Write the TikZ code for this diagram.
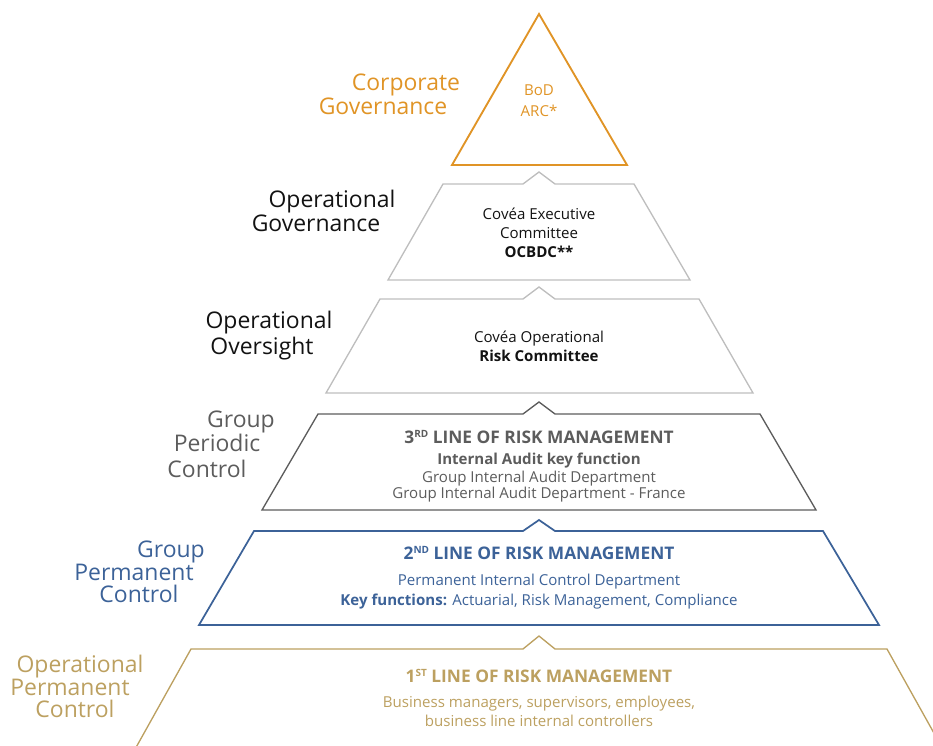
\documentclass[tikz,border=0pt]{standalone}
\usepackage{fontspec}
\setmainfont{Open Sans}
\begin{document}
\definecolor{cgorange}{RGB}{224,148,38}
\definecolor{oglight}{RGB}{190,190,190}
\definecolor{ogtext}{RGB}{18,18,18}
\definecolor{gpgrey}{RGB}{92,92,92}
\definecolor{gpblue}{RGB}{60,98,152}
\definecolor{opgold}{RGB}{188,160,96}
\newcommand{\supsm}[1]{\raisebox{0.55ex}{\fontsize{7.5}{8}\selectfont #1}}
\begin{tikzpicture}[x=0.75pt,y=-0.75pt,
  lbl/.style={font=\fontsize{17.2}{20}\selectfont, anchor=base, inner sep=0pt},
  txt/.style={font=\fontsize{11.3}{13}\selectfont, anchor=base, inner sep=0pt},
  btxt/.style={font=\bfseries\fontsize{11.3}{13}\selectfont, anchor=base, inner sep=0pt},
  head/.style={font=\bfseries\fontsize{13}{15}\selectfont, anchor=base, inner sep=0pt},
  tier/.style={line width=1pt, line join=miter}]
\useasboundingbox (0,0) rectangle (933,746);

% apex: corporate governance
\draw[tier, cgorange, line width=1.4pt] (539,14) -- (627,165) -- (452,165) -- cycle;
\node[lbl, text=cgorange] (cg1) at (406,90) {Corporate};
\node[lbl, text=cgorange] (cg2) at (383,114) {Governance};
\node[txt, text=cgorange] (bod) at (539,95) {BoD};
\node[txt, text=cgorange] (arc) at (539,116) {ARC*};

% tier 1: operational governance
\draw[tier, oglight] (443,184) -- (523,184) -- (539,172) -- (555,184) -- (634,184)
  -- (690,280) -- (388,280) -- cycle;
\node[lbl, text=ogtext] (og1) at (332,207) {Operational};
\node[lbl, text=ogtext] (og2) at (316,231) {Governance};
\node[txt, text=ogtext] (ogA) at (539,219) {Covéa Executive};
\node[txt, text=ogtext] (ogB) at (539,238) {Committee};
\node[btxt, text=ogtext] (ogC) at (539,257) {OCBDC**};

% tier 2: operational oversight
\draw[tier, oglight] (380,299) -- (523,299) -- (539,287) -- (555,299) -- (699,299)
  -- (753,393) -- (326,393) -- cycle;
\node[lbl, text=ogtext] (oo1) at (269,328) {Operational};
\node[lbl, text=ogtext] (oo2) at (262,354) {Oversight};
\node[txt, text=ogtext] (ooA) at (539,342) {Covéa Operational};
\node[btxt, text=ogtext] (ooB) at (539,361) {Risk Committee};

% tier 3: group periodic control
\draw[tier, gpgrey] (318,414) -- (523,414) -- (539,402) -- (555,414) -- (760,414)
  -- (816,510) -- (262,510) -- cycle;
\node[lbl, text=gpgrey] (gp1) at (241,427) {Group};
\node[lbl, text=gpgrey] (gp2) at (217,451) {Periodic};
\node[lbl, text=gpgrey] (gp3) at (207,477) {Control};
\node[head, text=gpgrey] (gpA) at (539,443) {3\supsm{RD} LINE OF RISK MANAGEMENT};
\node[btxt, text=gpgrey] (gpB) at (539,464) {Internal Audit key function};
\node[txt, text=gpgrey] (gpC) at (539,482) {Group Internal Audit Department};
\node[txt, text=gpgrey] (gpD) at (539,498) {Group Internal Audit Department - France};

% tier 4: group permanent control
\draw[tier, gpblue, line width=1.3pt] (254,531) -- (523,531) -- (539,520) -- (555,531) -- (823,531)
  -- (879,625) -- (199,625) -- cycle;
\node[lbl, text=gpblue] (pc1) at (171,557) {Group};
\node[lbl, text=gpblue] (pc2) at (134,580) {Permanent};
\node[lbl, text=gpblue] (pc3) at (139,602) {Control};
\node[head, text=gpblue] (pcA) at (539,559) {2\supsm{ND} LINE OF RISK MANAGEMENT};
\node[txt, text=gpblue] (pcB) at (539,585) {Permanent Internal Control Department};
\node[txt, text=gpblue] (pcC) at (539,605) {\textbf{Key functions:} Actuarial, Risk Management, Compliance};

% tier 5: operational permanent control (runs off the bottom edge)
\begin{scope}
\clip (0,0) rectangle (933,746);
\draw[tier, opgold] (129,760) -- (191,649) -- (523,649) -- (539,636) -- (555,649) -- (887,649)
  -- (949,760);
\end{scope}
\node[lbl, text=opgold] (op1) at (80,672) {Operational};
\node[lbl, text=opgold] (op2) at (70,695) {Permanent};
\node[lbl, text=opgold] (op3) at (75,717) {Control};
\node[head, text=opgold] (opA) at (539,682) {1\supsm{ST} LINE OF RISK MANAGEMENT};
\node[txt, text=opgold] (opB) at (539,707) {Business managers, supervisors, employees,};
\node[txt, text=opgold] (opC) at (539,726) {business line internal controllers};
\end{tikzpicture}
\end{document}
